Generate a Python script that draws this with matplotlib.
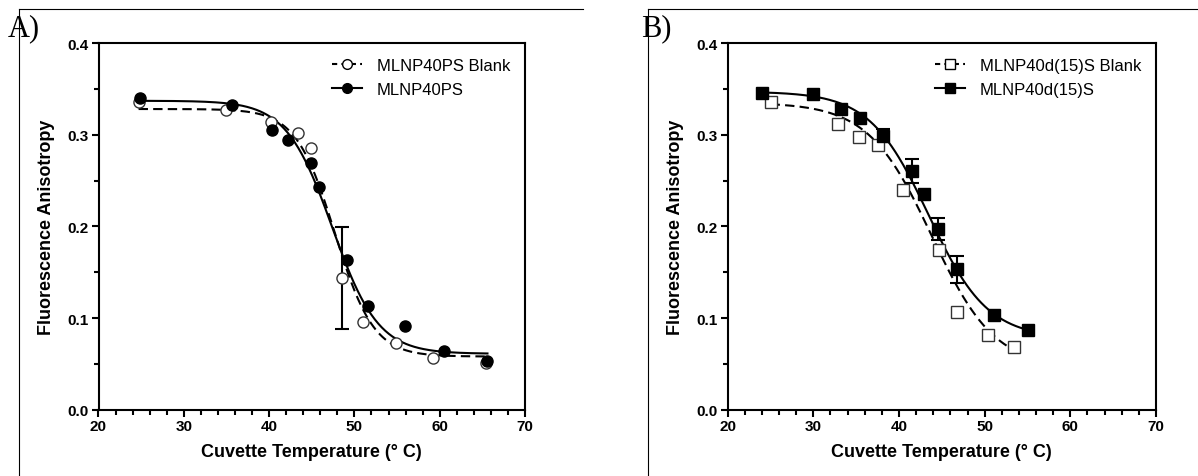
import numpy as np
import matplotlib
matplotlib.use("Agg")
from matplotlib import pyplot as plt
from matplotlib.lines import Line2D

plt.rcParams['font.family'] = ['Liberation Sans', 'DejaVu Sans']

# panel A: MLNP40PS
a_blank_temp = [24.7, 35.0, 40.2, 43.4, 44.9, 48.6, 51.0, 54.9, 59.2, 65.4]
a_blank_aniso = [0.336, 0.327, 0.314, 0.302, 0.285, 0.144, 0.096, 0.073, 0.056, 0.051]
a_blank_err = [0, 0, 0, 0, 0, 0.0555, 0, 0, 0, 0]
a_temp = [24.9, 35.7, 40.3, 42.25, 44.9, 45.8, 49.1, 51.6, 55.9, 60.5, 65.6]
a_aniso = [0.340, 0.332, 0.305, 0.294, 0.269, 0.243, 0.163, 0.113, 0.091, 0.064, 0.053]
a_err = [0, 0, 0, 0, 0, 0, 0, 0, 0, 0, 0]

# panel B: MLNP40d(15)S
b_blank_temp = [25.0, 32.9, 35.3, 37.5, 40.5, 44.7, 46.75, 50.4, 53.4]
b_blank_aniso = [0.336, 0.312, 0.297, 0.289, 0.240, 0.174, 0.107, 0.081, 0.068]
b_blank_err = [0, 0, 0, 0, 0, 0, 0, 0, 0]
b_temp = [24.0, 30.0, 33.2, 35.4, 38.1, 41.5, 42.9, 44.6, 46.8, 51.1, 55.0]
b_aniso = [0.345, 0.344, 0.328, 0.318, 0.299, 0.260, 0.235, 0.197, 0.153, 0.103, 0.087]
b_err = [0, 0, 0, 0, 0.007, 0.013, 0, 0.012, 0.015, 0, 0]

# Boltzmann fits (top, bottom, V50, slope)
a_blank_fit = (0.328, 0.058, 47.7, 2.28)
a_fit = (0.337, 0.061, 47.4, 2.7)
b_blank_fit = (0.335, 0.045, 43.8, 3.7)
b_fit = (0.347, 0.078, 43.45, 3.44)

labels_a = ["MLNP40PS Blank", "MLNP40PS"]
labels_b = ["MLNP40d(15)S Blank", "MLNP40d(15)S"]


def boltzmann(x, p):
    top, bottom, v50, slope = p
    return bottom + (top - bottom) / (1 + np.exp((x - v50) / slope))


def draw_series(ax, t, y, err, fit, marker, filled, ls, label):
    t = np.array(t)
    y = np.array(y)
    err = np.array(err)
    xs = np.linspace(t.min(), t.max(), 300)
    ax.plot(xs, boltzmann(xs, fit), color='black', lw=1.5, ls=ls,
            dashes=(4.5, 2.5) if ls == '--' else (None, None), zorder=2)
    m = err > 0
    if m.any():
        ax.errorbar(t[m], y[m], yerr=err[m], fmt='none', ecolor='black',
                    elinewidth=1.5, capsize=5, capthick=1.5, zorder=3)
    ax.plot(t, y, ls='none', marker=marker, ms=8 if marker == 'o' else 8.5,
            mfc='black' if filled else 'white', mec='black' if filled else '#333333',
            mew=1.0, zorder=4)
    # legend handle
    return Line2D([], [], color='black', lw=1.5, ls=ls,
                  dashes=(2.5, 2) if ls == '--' else (None, None),
                  marker=marker, ms=7 if marker == 'o' else 7.5,
                  mfc='black' if filled else 'white', mec='black', mew=1.0)


fig = plt.figure(figsize=(11.98, 4.77), dpi=100)

W, H = 1198.0, 477.0
axA = fig.add_axes([98.5 / W, 1 - 410.7 / H, (525 - 98.5) / W, (410.7 - 44) / H])
axB = fig.add_axes([727.7 / W, 1 - 410.7 / H, (1156 - 727.7) / W, (410.7 - 44) / H])

hA1 = draw_series(axA, a_blank_temp, a_blank_aniso, a_blank_err, a_blank_fit, 'o', False, '--', labels_a[0])
hA2 = draw_series(axA, a_temp, a_aniso, a_err, a_fit, 'o', True, '-', labels_a[1])
hB1 = draw_series(axB, b_blank_temp, b_blank_aniso, b_blank_err, b_blank_fit, 's', False, '--', labels_b[0])
hB2 = draw_series(axB, b_temp, b_aniso, b_err, b_fit, 's', True, '-', labels_b[1])

for ax, handles, labels in [(axA, [hA1, hA2], labels_a), (axB, [hB1, hB2], labels_b)]:
    ax.set_xlim(20, 70)
    ax.set_ylim(0, 0.4)
    ax.set_xticks(np.arange(20, 71, 10))
    ax.set_xticks(np.arange(20, 71, 2), minor=True)
    ax.set_yticks(np.arange(0, 0.41, 0.1))
    ax.set_yticks(np.arange(0, 0.41, 0.05), minor=True)
    ax.yaxis.set_major_formatter(plt.FormatStrFormatter('%.1f'))
    ax.tick_params(which='both', direction='out', top=False, right=False, width=1.5)
    ax.tick_params(which='major', length=5, labelsize=11, pad=2)
    ax.tick_params(which='minor', length=3.5)
    for lab in ax.get_xticklabels() + ax.get_yticklabels():
        lab.set_fontweight('bold')
    for sp in ax.spines.values():
        sp.set_linewidth(1.5)
    ax.set_xlabel("Cuvette Temperature (\u00b0 C)", fontsize=13, fontweight='bold', labelpad=7)
    ax.set_ylabel("Fluorescence Anisotropy", fontsize=13, fontweight='bold', labelpad=9)
    ax.legend(handles, labels, loc='upper right', bbox_to_anchor=(1.0, 1.0),
              frameon=False, fontsize=12, handlelength=1.8, handletextpad=0.9,
              labelspacing=0.55, numpoints=1)

# panel frames and letters
fig.add_artist(Line2D([18.5 / W, 583 / W], [1 - 10 / H, 1 - 10 / H], color='black', lw=0.8))
fig.add_artist(Line2D([18.5 / W, 18.5 / W], [0, 1 - 10 / H], color='black', lw=0.8))
fig.add_artist(Line2D([648 / W, 1], [1 - 10 / H, 1 - 10 / H], color='black', lw=0.8))
fig.add_artist(Line2D([648 / W, 648 / W], [0, 1 - 10 / H], color='black', lw=0.8))
fig.text(8 / W, 1 - 14 / H, "A)", fontsize=22, family='Liberation Serif', va='top', ha='left')
fig.text(641 / W, 1 - 14 / H, "B)", fontsize=22, family='Liberation Serif', va='top', ha='left')

fig.savefig('out.png', dpi=100)
